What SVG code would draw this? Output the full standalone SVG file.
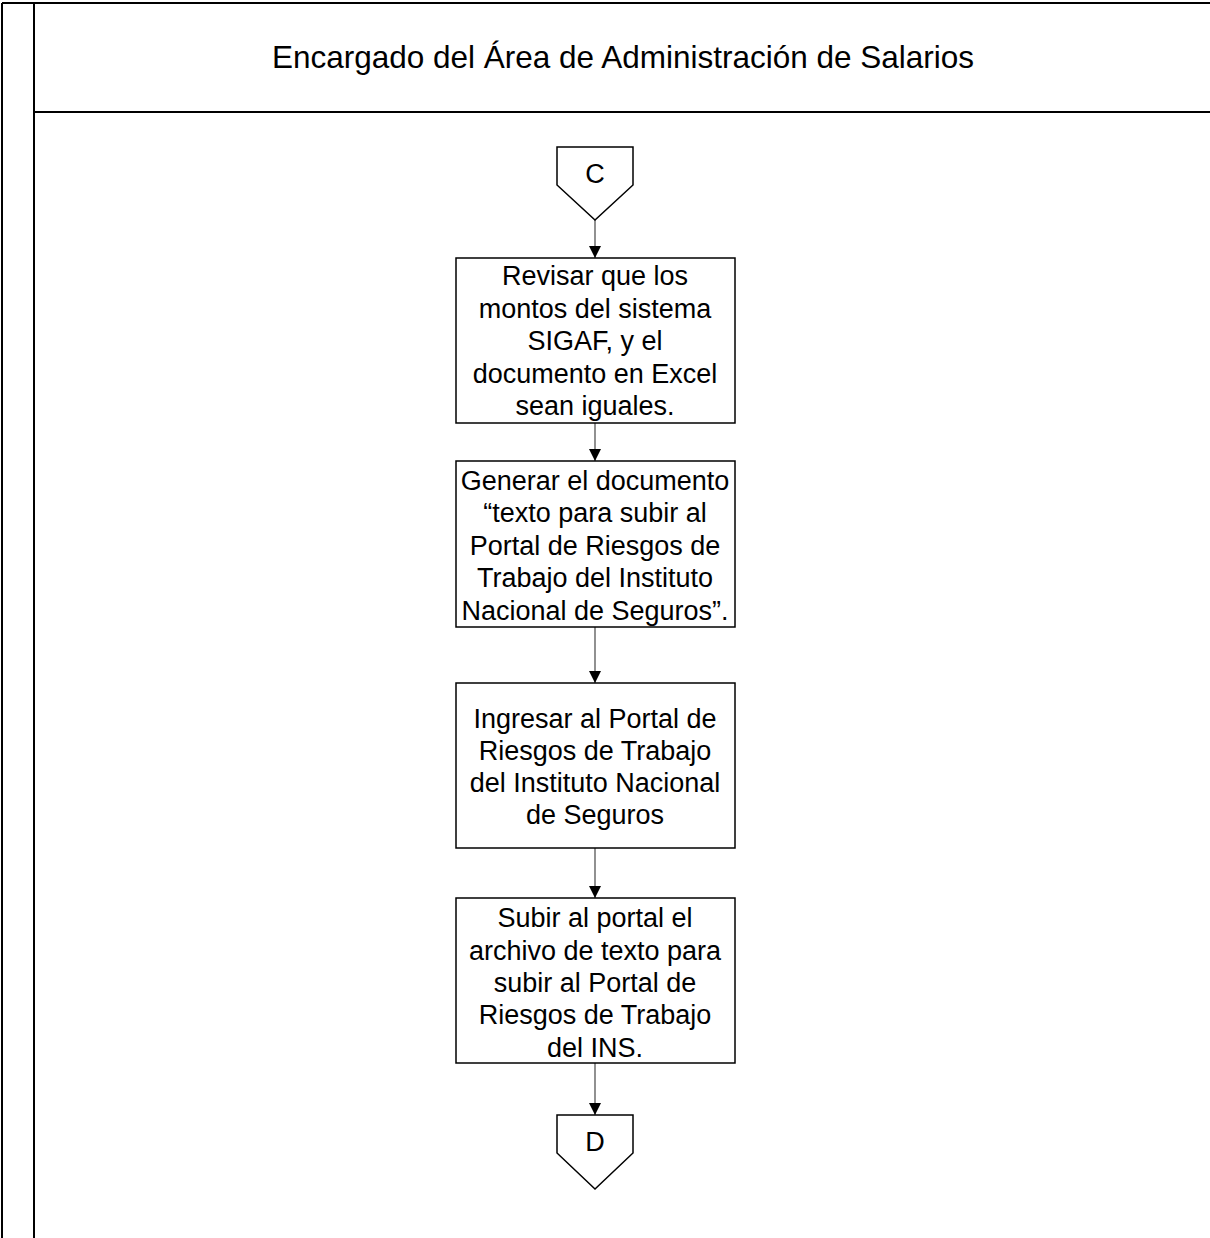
<svg xmlns="http://www.w3.org/2000/svg" width="1210" height="1238" viewBox="0 0 1210 1238">
  <style>
    .frame { stroke: #000; stroke-width: 2; fill: none; }
    .box { fill: #fff; stroke: #000; stroke-width: 1.5; }
    .lbl { font-family: "Liberation Sans", Arial, sans-serif; font-size: 27px; fill: #000; text-anchor: middle; dominant-baseline: central; }
    .title { font-family: "Liberation Sans", Arial, sans-serif; font-size: 31.5px; fill: #000; text-anchor: middle; dominant-baseline: central; }
    .conn { stroke: #555; stroke-width: 1.3; fill: none; marker-end: url(#arrow); }
  </style>
  <defs>
    <marker id="arrow" viewBox="0 0 10 10" refX="10" refY="5" markerWidth="12" markerHeight="12" markerUnits="userSpaceOnUse" orient="auto">
      <path d="M0,0 L10,5 L0,10 Z" fill="#000"/>
    </marker>
  </defs>
  <rect width="1210" height="1238" fill="#fff"/>

  <!-- swimlane frame -->
  <g id="lane">
    <line class="frame" x1="2" y1="3" x2="1210" y2="3"/>
    <line class="frame" x1="2" y1="3" x2="2" y2="1238"/>
    <line class="frame" x1="34" y1="3" x2="34" y2="1238"/>
    <line class="frame" x1="34" y1="112" x2="1210" y2="112"/>
    <text class="title" x="623" y="57">Encargado del Área de Administración de Salarios</text>
  </g>

  <!-- connectors -->
  <g id="connectors">
    <line class="conn" x1="595" y1="220" x2="595" y2="258"/>
    <line class="conn" x1="595" y1="423" x2="595" y2="461"/>
    <line class="conn" x1="595" y1="627" x2="595" y2="683"/>
    <line class="conn" x1="595" y1="848" x2="595" y2="898"/>
    <line class="conn" x1="595" y1="1063" x2="595" y2="1115"/>
  </g>

  <g id="ref-c">
    <polygon class="box" points="557,147 633,147 633,185 595,220 557,185"/>
    <text class="lbl" x="595" y="174">C</text>
  </g>

  <g id="step-1">
    <rect class="box" x="456" y="258" width="279" height="165"/>
    <text class="lbl" x="595" y="276">Revisar que los</text>
    <text class="lbl" x="595" y="309">montos del sistema</text>
    <text class="lbl" x="595" y="341">SIGAF, y el</text>
    <text class="lbl" x="595" y="374">documento en Excel</text>
    <text class="lbl" x="595" y="406">sean iguales.</text>
  </g>

  <g id="step-2">
    <rect class="box" x="456" y="461" width="279" height="166"/>
    <text class="lbl" x="595" y="481">Generar el documento</text>
    <text class="lbl" x="595" y="513">“texto para subir al</text>
    <text class="lbl" x="595" y="546">Portal de Riesgos de</text>
    <text class="lbl" x="595" y="578">Trabajo del Instituto</text>
    <text class="lbl" x="595" y="611">Nacional de Seguros”.</text>
  </g>

  <g id="step-3">
    <rect class="box" x="456" y="683" width="279" height="165"/>
    <text class="lbl" x="595" y="719">Ingresar al Portal de</text>
    <text class="lbl" x="595" y="751">Riesgos de Trabajo</text>
    <text class="lbl" x="595" y="783">del Instituto Nacional</text>
    <text class="lbl" x="595" y="815">de Seguros</text>
  </g>

  <g id="step-4">
    <rect class="box" x="456" y="898" width="279" height="165"/>
    <text class="lbl" x="595" y="918">Subir al portal el</text>
    <text class="lbl" x="595" y="951">archivo de texto para</text>
    <text class="lbl" x="595" y="983">subir al Portal de</text>
    <text class="lbl" x="595" y="1015">Riesgos de Trabajo</text>
    <text class="lbl" x="595" y="1048">del INS.</text>
  </g>

  <g id="ref-d">
    <polygon class="box" points="557,1115 633,1115 633,1153 595,1189 557,1153"/>
    <text class="lbl" x="595" y="1142">D</text>
  </g>
</svg>
